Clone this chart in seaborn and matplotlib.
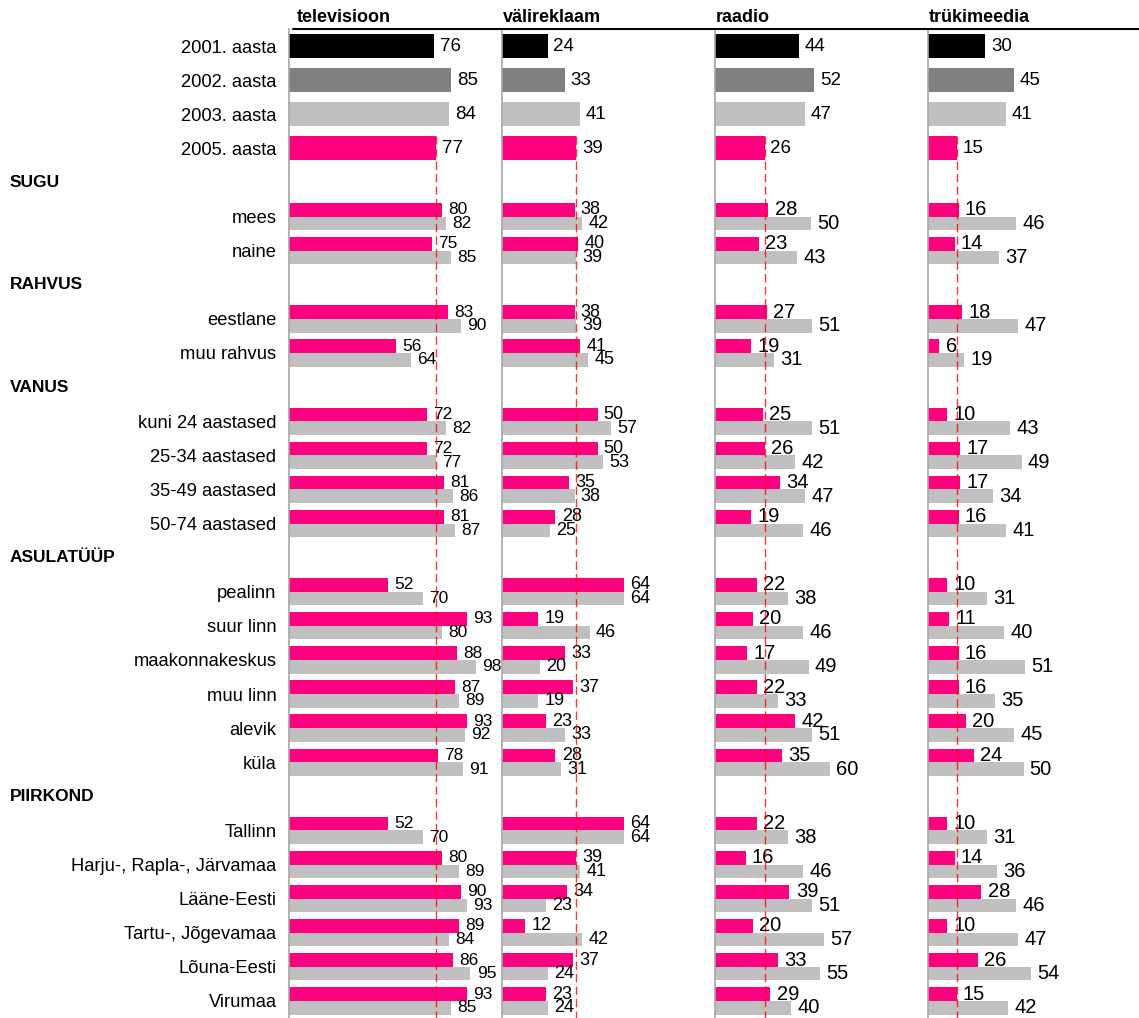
import matplotlib.pyplot as plt
import matplotlib.transforms as mtransforms
from matplotlib.lines import Line2D
import pandas as pd
import seaborn as sns

# ---------------
# DATA
# ---------------
panels = ["televisioon", "välireklaam", "raadio", "trükimeedia"]
year_labels = ["2001. aasta", "2002. aasta", "2003. aasta", "2005. aasta"]
year_keys = ["2001", "2002", "2003", "2005"]

years_tv = [76, 85, 84, 77]
years_vali = [24, 33, 41, 39]
years_raadio = [44, 52, 47, 26]
years_truki = [30, 45, 41, 15]

sections = ["SUGU", "RAHVUS", "VANUS", "ASULATÜÜP", "PIIRKOND"]
section_rows = [
    ["mees", "naine"],
    ["eestlane", "muu rahvus"],
    ["kuni 24 aastased", "25-34 aastased", "35-49 aastased", "50-74 aastased"],
    ["pealinn", "suur linn", "maakonnakeskus", "muu linn", "alevik", "küla"],
    ["Tallinn", "Harju-, Rapla-, Järvamaa", "Lääne-Eesti", "Tartu-, Jõgevamaa",
     "Lõuna-Eesti", "Virumaa"],
]

# 2005 / 2003 values per group row (same order as section_rows flattened)
tv_2005 = [80, 75, 83, 56, 72, 72, 81, 81, 52, 93, 88, 87, 93, 78, 52, 80, 90, 89, 86, 93]
tv_2003 = [82, 85, 90, 64, 82, 77, 86, 87, 70, 80, 98, 89, 92, 91, 70, 89, 93, 84, 95, 85]
vali_2005 = [38, 40, 38, 41, 50, 50, 35, 28, 64, 19, 33, 37, 23, 28, 64, 39, 34, 12, 37, 23]
vali_2003 = [42, 39, 39, 45, 57, 53, 38, 25, 64, 46, 20, 19, 33, 31, 64, 41, 23, 42, 24, 24]
raadio_2005 = [28, 23, 27, 19, 25, 26, 34, 19, 22, 20, 17, 22, 42, 35, 22, 16, 39, 20, 33, 29]
raadio_2003 = [50, 43, 51, 31, 51, 42, 47, 46, 38, 46, 49, 33, 51, 60, 38, 46, 51, 57, 55, 40]
truki_2005 = [16, 14, 18, 6, 10, 17, 17, 16, 10, 11, 16, 16, 20, 24, 10, 14, 28, 10, 26, 15]
truki_2003 = [46, 37, 47, 19, 43, 49, 34, 41, 31, 40, 51, 35, 45, 50, 31, 36, 46, 47, 54, 42]

year_colors = {"2001": "#000000", "2002": "#808080", "2003": "#C0C0C0", "2005": "#FF0080"}
label_sizes = [12.5, 13, 14.5, 14.5]

# ---------------
# BUILD ROW LAYOUT
# ---------------
tick_pos, tick_lab = list(range(4)), list(year_labels)
header_pos = []
group_pos = []
row = 4
for name, rows in zip(sections, section_rows):
    header_pos.append(row)
    row += 1
    for r in rows:
        tick_pos.append(row)
        tick_lab.append(r)
        group_pos.append(row)
        row += 1
n_rows = row

year_data = {"televisioon": years_tv, "välireklaam": years_vali,
             "raadio": years_raadio, "trükimeedia": years_truki}
pair_data = {"televisioon": (tv_2005, tv_2003), "välireklaam": (vali_2005, vali_2003),
             "raadio": (raadio_2005, raadio_2003), "trükimeedia": (truki_2005, truki_2003)}

sns.set_style("white")
plt.rcParams["font.family"] = ["Liberation Sans", "DejaVu Sans"]
plt.rcParams["text.color"] = "black"
plt.rcParams["ytick.color"] = "black"

fig = plt.figure(figsize=(11.39, 10.18), dpi=100)
W, H = 1139, 1018
left0, panel_w = 289 / W, 213 / W
top = 1 - 29 / H
px_per_unit = 1.91
xmax = 213 / px_per_unit

axes = []
for i, panel in enumerate(panels):
    ax = fig.add_axes([left0 + i * panel_w, 0, panel_w, top])
    axes.append(ax)

    ydf = pd.DataFrame({"pos": range(4), "value": year_data[panel], "year": year_keys})
    sns.barplot(data=ydf, x="value", y="pos", hue="year", hue_order=year_keys,
                palette=year_colors, orient="h", native_scale=True, dodge=False,
                width=0.7, errorbar=None, legend=False, saturation=1,
                linewidth=0, ax=ax)
    n_year_cont = len(ax.containers)

    p05, p03 = pair_data[panel]
    pdf = pd.DataFrame({
        "pos": group_pos + group_pos,
        "value": list(p05) + list(p03),
        "year": ["2005"] * len(p05) + ["2003"] * len(p03),
    })
    sns.barplot(data=pdf, x="value", y="pos", hue="year", hue_order=["2005", "2003"],
                palette=year_colors, orient="h", native_scale=True, dodge=True,
                width=0.8, errorbar=None, legend=False, saturation=1,
                linewidth=0, ax=ax)

    for k, cont in enumerate(ax.containers):
        if k < n_year_cont:
            ax.bar_label(cont, fmt="%g", padding=4, fontsize=13.5)
        else:
            ax.bar_label(cont, fmt="%g", padding=4.5, fontsize=label_sizes[i])

    # 2005 reference line
    v05 = year_data[panel][3]
    ax.plot([v05, v05], [3 - 0.35, n_rows - 0.5], color="red", ls=(0, (6, 3)),
            lw=1, alpha=0.8, zorder=5)

    ax.set_xlim(0, xmax)
    ax.set_ylim(n_rows - 0.5, -0.5)
    ax.set_xlabel("")
    ax.set_ylabel("")
    ax.set_xticks([])
    for s in ["top", "right", "bottom"]:
        ax.spines[s].set_visible(False)
    ax.spines["left"].set_color("#A6A6A6")
    ax.spines["left"].set_linewidth(1.2)
    ax.text(0.035 if i == 0 else 0.005, 1.0 + 12 / (top * H), panel,
            transform=ax.transAxes, fontsize=13, fontweight="bold",
            ha="left", va="center")
    if i == 0:
        ax.set_yticks(tick_pos)
        ax.set_yticklabels(tick_lab, fontsize=13.2)
        ax.tick_params(axis="y", length=0, pad=9)
    else:
        ax.set_yticks([])

# section headers
trans = mtransforms.blended_transform_factory(fig.transFigure, axes[0].transData)
for name, pos in zip(sections, header_pos):
    axes[0].text(10 / W, pos, name, transform=trans, fontsize=12.5,
                 fontweight="bold", ha="left", va="center")

# top rule under the titles
fig.add_artist(Line2D([293 / W, 1.0], [top, top], color="black", lw=1.5,
                      transform=fig.transFigure))

plt.savefig("out.png", dpi=100)
